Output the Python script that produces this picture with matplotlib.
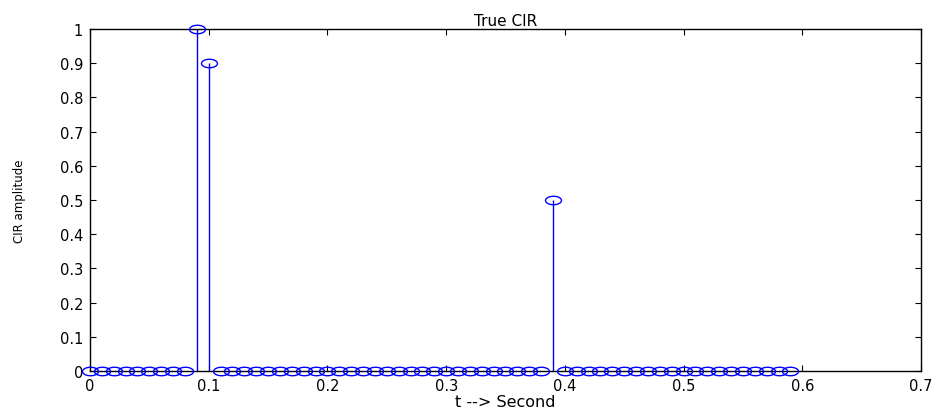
import numpy as np
import matplotlib.pyplot as plt

plt.rcParams['font.family'] = ['DejaVu Sans']

# sample times (s) and channel impulse response
t = np.arange(60) * 0.01
taps_idx = [9, 10, 39]
taps_val = [1.0, 0.9, 0.5]
h = np.zeros(len(t))
h[taps_idx] = taps_val

x_ticks = [0, 0.1, 0.2, 0.3, 0.4, 0.5, 0.6, 0.7]
x_labels = ['0', '0.1', '0.2', '0.3', '0.4', '0.5', '0.6', '0.7']
y_ticks = [0, 0.1, 0.2, 0.3, 0.4, 0.5, 0.6, 0.7, 0.8, 0.9, 1]
y_labels = ['0', '0.1', '0.2', '0.3', '0.4', '0.5', '0.6', '0.7', '0.8', '0.9', '1']

# flattened circle marker (MATLAB-style stretched 'o')
ang = np.linspace(0, 2 * np.pi, 41)
oval = np.column_stack([np.cos(ang), 0.53 * np.sin(ang)])

fig = plt.figure(figsize=(9.43, 4.14), dpi=100)
ax = fig.add_axes([0.0954, 0.1014, 0.8813, 0.8261])

ax.vlines(t, 0, h, colors='#0000ff', linewidth=1.0)
ax.plot(t, h, linestyle='none', marker=oval, markersize=11.5,
        markerfacecolor='none', markeredgecolor='#0000ff',
        markeredgewidth=1.0, clip_on=False, zorder=3)

ax.set_xlim(0, 0.7)
ax.set_ylim(0, 1)
ax.set_xticks(x_ticks)
ax.set_xticklabels(x_labels)
ax.set_yticks(y_ticks)
ax.set_yticklabels(y_labels)
ax.tick_params(direction='in', length=4, width=0.8, top=True, right=True,
               labelsize=10.5, pad=5)
for s in ax.spines.values():
    s.set_linewidth(1.0)

ax.set_title('True CIR', fontsize=11, pad=3)
ax.set_xlabel('t --> Second', fontsize=11.5, labelpad=1)
ax.set_ylabel('CIR amplitude', fontsize=8.5, labelpad=24)

fig.savefig('out.png', dpi=100)
